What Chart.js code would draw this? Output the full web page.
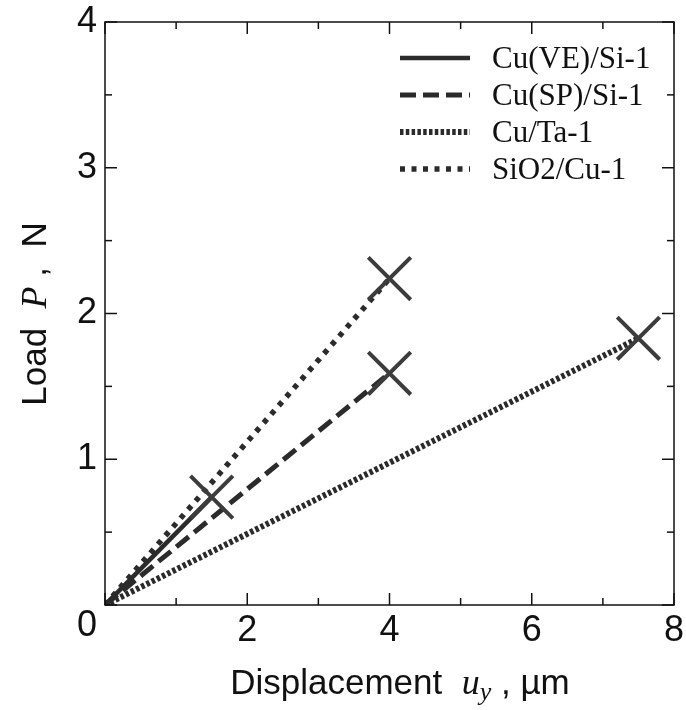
<!DOCTYPE html>
<html>
<head>
<meta charset="utf-8">
<script src="https://cdn.jsdelivr.net/npm/chart.js@4.4.1/dist/chart.umd.min.js"></script>
<style>
  html, body { margin: 0; padding: 0; background: #fff; }
  #wrap { width: 686px; height: 710px; }
</style>
</head>
<body>
<div id="wrap"><canvas id="loadChart" width="686" height="710"></canvas></div>
<script>
// Datos
const seriesNames = ['Cu(VE)/Si-1', 'Cu(SP)/Si-1', 'Cu/Ta-1', 'SiO2/Cu-1'];
const dispStart = [0, 0, 0, 0];
const loadStart = [0, 0, 0, 0];
const dispEnd = [1.5, 4.0, 7.5, 4.0];      // µm (punto de rotura, marcado con X)
const loadEnd = [0.74, 1.59, 1.83, 2.24];  // N
const xTicks = [0, 2, 4, 6, 8];
const yTicks = [0, 1, 2, 3, 4];

// Estilos de línea
const lineDashes = [[], [16, 7], [3.5, 2.3], [5, 6.5]];
const lineWidths = [4.5, 5, 6, 5.5];
const lineColor = '#2b2b2b';
const markColor = '#3c3c3c';

const SANS = "'Liberation Sans Narrow', 'Liberation Sans', Arial, sans-serif";
const SERIF = "'Liberation Serif', 'Times New Roman', serif";

function makeDatasets() {
    return seriesNames.map((name, i) => ({
        label: name,
        data: [
            { x: dispStart[i], y: loadStart[i] },
            { x: dispEnd[i], y: loadEnd[i] }
        ],
        showLine: true,
        borderColor: lineColor,
        borderWidth: lineWidths[i],
        borderDash: lineDashes[i],
        borderCapStyle: 'butt',
        pointStyle: 'crossRot',
        pointRadius: [0, 30],
        pointHoverRadius: [0, 30],
        pointBorderWidth: 4,
        pointBorderColor: markColor,
        pointBackgroundColor: markColor
    }));
}

// Dibuja texto con varias fuentes seguidas
function drawRuns(ctx, runs, x, y) {
    let cx = x;
    runs.forEach(r => {
        ctx.font = r.font;
        ctx.fillText(r.text, cx, y + (r.dy || 0));
        cx += ctx.measureText(r.text).width;
    });
    return cx - x;
}
function runsWidth(ctx, runs) {
    let w = 0;
    runs.forEach(r => { ctx.font = r.font; w += ctx.measureText(r.text).width; });
    return w;
}

// Quitar el relleno automático de las escalas
function noPad(s) {
    s.paddingTop = 0; s.paddingBottom = 0; s.paddingLeft = 0; s.paddingRight = 0;
}

// Marco, marcas interiores, títulos y leyenda
const framePlugin = {
    id: 'frameTicks',
    afterDraw(chart) {
        const { ctx, chartArea: a } = chart;
        const x = chart.scales.x;
        const y = chart.scales.y;
        ctx.save();
        ctx.strokeStyle = '#111';
        ctx.lineWidth = 1.5;
        ctx.setLineDash([]);
        ctx.strokeRect(a.left, a.top, a.right - a.left, a.bottom - a.top);

        const seg = (x1, y1, x2, y2) => {
            ctx.beginPath(); ctx.moveTo(x1, y1); ctx.lineTo(x2, y2); ctx.stroke();
        };
        for (let v = x.min; v <= x.max + 1e-9; v += 1) {
            const px = x.getPixelForValue(v);
            const len = xTicks.includes(v) ? 12 : 7;
            seg(px, a.bottom, px, a.bottom - len);
            seg(px, a.top, px, a.top + len);
        }
        for (let v = y.min; v <= y.max + 1e-9; v += 0.5) {
            const py = y.getPixelForValue(v);
            const len = yTicks.includes(v) ? 12 : 7;
            seg(a.left, py, a.left + len, py);
            seg(a.right, py, a.right - len, py);
        }

        // "0" común en la esquina
        ctx.fillStyle = '#111';
        ctx.font = '36px ' + SANS;
        ctx.textAlign = 'right';
        ctx.textBaseline = 'middle';
        ctx.fillText('0', a.left - 8, a.bottom + 21);

        // Título eje x
        ctx.textAlign = 'left';
        ctx.textBaseline = 'alphabetic';
        const xRuns = [
            { text: 'Displacement  ', font: '35px ' + SANS },
            { text: 'u', font: 'italic 36px ' + SERIF },
            { text: 'y', font: 'italic 26px ' + SERIF, dy: 6 },
            { text: ' , \u00b5m', font: '35px ' + SANS }
        ];
        const xw = runsWidth(ctx, xRuns);
        drawRuns(ctx, xRuns, 400 - xw / 2, 694);

        // Título eje y
        const yRuns = [
            { text: 'Load  ', font: '35px ' + SANS },
            { text: 'P', font: 'italic 36px ' + SERIF },
            { text: ' ,  N', font: '35px ' + SANS }
        ];
        const yw = runsWidth(ctx, yRuns);
        ctx.save();
        ctx.translate(46, 314);
        ctx.rotate(-Math.PI / 2);
        drawRuns(ctx, yRuns, -yw / 2, 0);
        ctx.restore();

        // Leyenda
        const ds = chart.data.datasets;
        const lx1 = a.right - 274, lx2 = a.right - 204;
        ds.forEach((d, i) => {
            const ly = a.top + 36 + i * 37;
            ctx.strokeStyle = lineColor;
            ctx.lineWidth = d.borderWidth;
            ctx.setLineDash(d.borderDash);
            seg(lx1, ly, lx2, ly);
            ctx.setLineDash([]);
            ctx.fillStyle = '#111';
            ctx.font = '31px ' + SERIF;
            ctx.fillText(d.label, lx2 + 22, ly + 10);
        });
        ctx.restore();
    }
};

function initLoadChart() {
    const el = document.getElementById('loadChart');
    if (!el) return;
    new Chart(el.getContext('2d'), {
        type: 'scatter',
        data: { datasets: makeDatasets() },
        options: {
            responsive: false,
            animation: false,
            events: [],
            layout: { autoPadding: false, padding: { top: 22, right: 12, left: 0, bottom: 0 } },
            plugins: { legend: { display: false }, tooltip: { enabled: false } },
            scales: {
                x: {
                    type: 'linear',
                    min: 0, max: 8,
                    afterBuildTicks: s => { s.ticks = xTicks.map(v => ({ value: v })); },
                    afterFit: s => { s.height = 105; noPad(s); },
                    grid: { display: false, drawTicks: false },
                    border: { display: false },
                    ticks: {
                        color: '#111',
                        padding: 4,
                        maxRotation: 0,
                        font: { family: SANS, size: 36 },
                        callback: v => (v === 0 ? '' : v)
                    }
                },
                y: {
                    type: 'linear',
                    min: 0, max: 4,
                    afterBuildTicks: s => { s.ticks = yTicks.map(v => ({ value: v })); },
                    afterFit: s => { s.width = 105; noPad(s); },
                    grid: { display: false, drawTicks: false },
                    border: { display: false },
                    ticks: {
                        color: '#111',
                        padding: 8,
                        font: { family: SANS, size: 36 },
                        callback: v => (v === 0 ? '' : v)
                    }
                }
            }
        },
        plugins: [framePlugin]
    });
}

document.addEventListener('DOMContentLoaded', initLoadChart);
</script>
</body>
</html>
